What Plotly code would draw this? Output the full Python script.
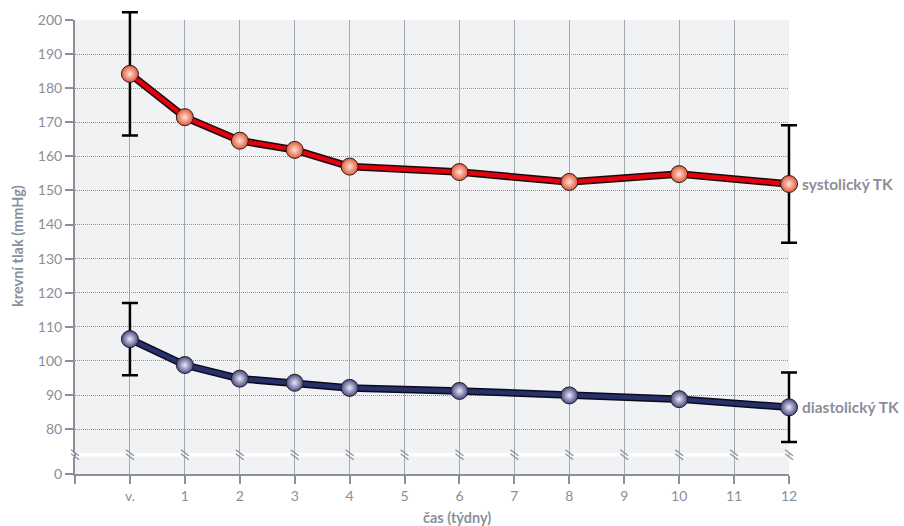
import plotly.graph_objects as go

categories = ["v.", "1", "2", "3", "4", "5", "6", "7", "8", "9", "10", "11", "12"]
measured_idx = [0, 1, 2, 3, 4, 6, 8, 10, 12]
systolic = [184.2, 171.5, 164.6, 161.9, 157.0, 155.4, 152.5, 154.8, 151.9]
diastolic = [106.4, 98.8, 94.8, 93.6, 92.1, 91.2, 89.9, 88.8, 86.4]
err_idx = [0, 12]
systolic_err = [18.1, 17.2]
diastolic_err = [10.6, 10.2]
y_ticks = [80, 90, 100, 110, 120, 130, 140, 150, 160, 170, 180, 190, 200]

GRAY = "#8a8f99"
VGRID = "#a3a8b2"
BG = "#f0f2f4"
FONT = "Lato"

W, H = 904, 526
ML, MR, MT, MB = 75, 60, 5, 52
PW, PH = W - ML - MR, H - MT - MB

# main panel geometry (paper fractions)
x_dom_end = 714 / PW
y_up_bot = (474 - 453) / PH
y_up_top = (474 - 20) / PH
y_lo_top = (474 - 456.5) / PH
x_range = [-1, 12]
y_range = [73, 200]
px_per_unit = (y_up_top - y_up_bot) * PH / (y_range[1] - y_range[0])
# unclipped overlay panel with identical scales (for error bars / markers)
x3_range = [x_range[0], x_range[0] + (x_range[1] - x_range[0]) / x_dom_end]
y3_range = [y_range[0], y_range[0] + (y_range[1] - y_range[0]) * (1 - y_up_bot) / (y_up_top - y_up_bot)]

fig = go.Figure()

# placeholders so the axes subplots exist
fig.add_trace(go.Scatter(x=[None], y=[None], xaxis="x", yaxis="y", showlegend=False, hoverinfo="skip"))
fig.add_trace(go.Scatter(x=[None], y=[None], xaxis="x", yaxis="y2", showlegend=False, hoverinfo="skip"))


def add_series(values, errs, line_col, edge_col, center_col, outline_col, name):
    fig.add_trace(go.Scatter(
        x=err_idx, y=[values[0], values[-1]], mode="markers",
        marker=dict(size=1, opacity=0),
        error_y=dict(type="data", array=errs, visible=True, color="#000000",
                     thickness=2.5, width=8),
        hoverinfo="skip", showlegend=False, xaxis="x3", yaxis="y3"))
    fig.add_trace(go.Scatter(
        x=measured_idx, y=values, mode="lines",
        line=dict(color=outline_col, width=7.5), hoverinfo="skip",
        showlegend=False, xaxis="x3", yaxis="y3"))
    fig.add_trace(go.Scatter(
        x=measured_idx, y=values, mode="lines+markers", name=name,
        line=dict(color=line_col, width=4.5),
        marker=dict(size=17, color=edge_col,
                    gradient=dict(type="radial", color=center_col),
                    line=dict(color="#2a1a1a", width=1)),
        showlegend=False, xaxis="x3", yaxis="y3"))


add_series(systolic, systolic_err, "#e3000f", "#e4573a", "#fde3d6", "#1a0a0a", "systolický TK")
add_series(diastolic, diastolic_err, "#27306b", "#454a86", "#eceaf6", "#0a0a1a", "diastolický TK")

x_tickvals = list(range(-1, 13))
x_ticktext = [""] + categories

axis_common = dict(showline=True, linecolor=GRAY, linewidth=2, ticks="outside", ticklen=8,
                   tickcolor=GRAY, tickwidth=1.5, zeroline=False, automargin=False,
                   tickfont=dict(size=14, color=GRAY, family=FONT))

fig.update_layout(
    width=W, height=H,
    margin=dict(l=ML, r=MR, t=MT, b=MB),
    paper_bgcolor="white", plot_bgcolor="rgba(0,0,0,0)",
    font=dict(family=FONT, color=GRAY, size=13),
    xaxis=dict(domain=[0, x_dom_end], range=x_range, anchor="y2",
               tickvals=x_tickvals, ticktext=x_ticktext,
               showgrid=True, gridcolor=VGRID, gridwidth=1, **axis_common),
    yaxis=dict(domain=[y_up_bot, y_up_top], range=y_range, anchor="x", tickvals=y_ticks,
               showgrid=True, gridcolor="#8f939b", griddash="1px,1px", gridwidth=1,
               **axis_common),
    yaxis2=dict(domain=[0, y_lo_top], range=[0, y_lo_top * PH / px_per_unit],
                anchor="x", tickvals=[0], showgrid=False, **axis_common),
    xaxis3=dict(domain=[0, 1], range=x3_range, anchor="y3", visible=False),
    yaxis3=dict(domain=[y_up_bot, 1], range=y3_range, anchor="x3", visible=False),
)

# panel backgrounds
for yref in ("y domain", "y2 domain"):
    fig.add_shape(type="rect", xref="x domain", yref=yref, x0=0, x1=1, y0=0, y1=1,
                  fillcolor=BG, line=dict(width=0), layer="below")

# axis break: segments through the gap and slash marks
gap_mid = (y_up_bot + y_lo_top) / 2
for xv in x_tickvals:
    xp = (xv - x_range[0]) / (x_range[1] - x_range[0]) * x_dom_end
    col = GRAY if xv == -1 else VGRID
    fig.add_shape(type="line", xref="paper", yref="paper", x0=xp, x1=xp,
                  y0=y_lo_top, y1=y_up_bot, line=dict(color=col, width=2 if xv == -1 else 1),
                  layer="above")
    for dy in (-2, 2):
        fig.add_shape(type="line", xref="paper", yref="paper", xsizemode="pixel",
                      ysizemode="pixel", xanchor=xp, yanchor=gap_mid,
                      x0=-4, x1=4, y0=dy + 3, y1=dy - 3,
                      line=dict(color=GRAY, width=1.2), layer="above")

# series labels
fig.add_annotation(x=12, y=systolic[-1], xref="x3", yref="y3", text="<b>systolický TK</b>",
                   showarrow=False, xanchor="left", xshift=11,
                   font=dict(size=15.5, color=GRAY, family=FONT))
fig.add_annotation(x=12, y=diastolic[-1], xref="x3", yref="y3", text="<b>diastolický TK</b>",
                   showarrow=False, xanchor="left", xshift=11,
                   font=dict(size=15.5, color=GRAY, family=FONT))

# axis titles
fig.add_annotation(x=0, y=(474 - 246) / PH, xref="paper", yref="paper", xshift=-(ML - 18),
                   text="<b>krevní tlak (mmHg)</b>", textangle=-90, showarrow=False,
                   xanchor="center", yanchor="middle", font=dict(size=14.5, color=GRAY, family=FONT))
fig.add_annotation(x=(457 - ML) / PW, y=0, xref="paper", yref="paper", yshift=-43,
                   text="<b>čas (týdny)</b>", showarrow=False,
                   xanchor="center", yanchor="middle", font=dict(size=14.5, color=GRAY, family=FONT))

fig.write_html("out.html", post_script="document.body.style.margin='0';",
               config={"displayModeBar": False})
